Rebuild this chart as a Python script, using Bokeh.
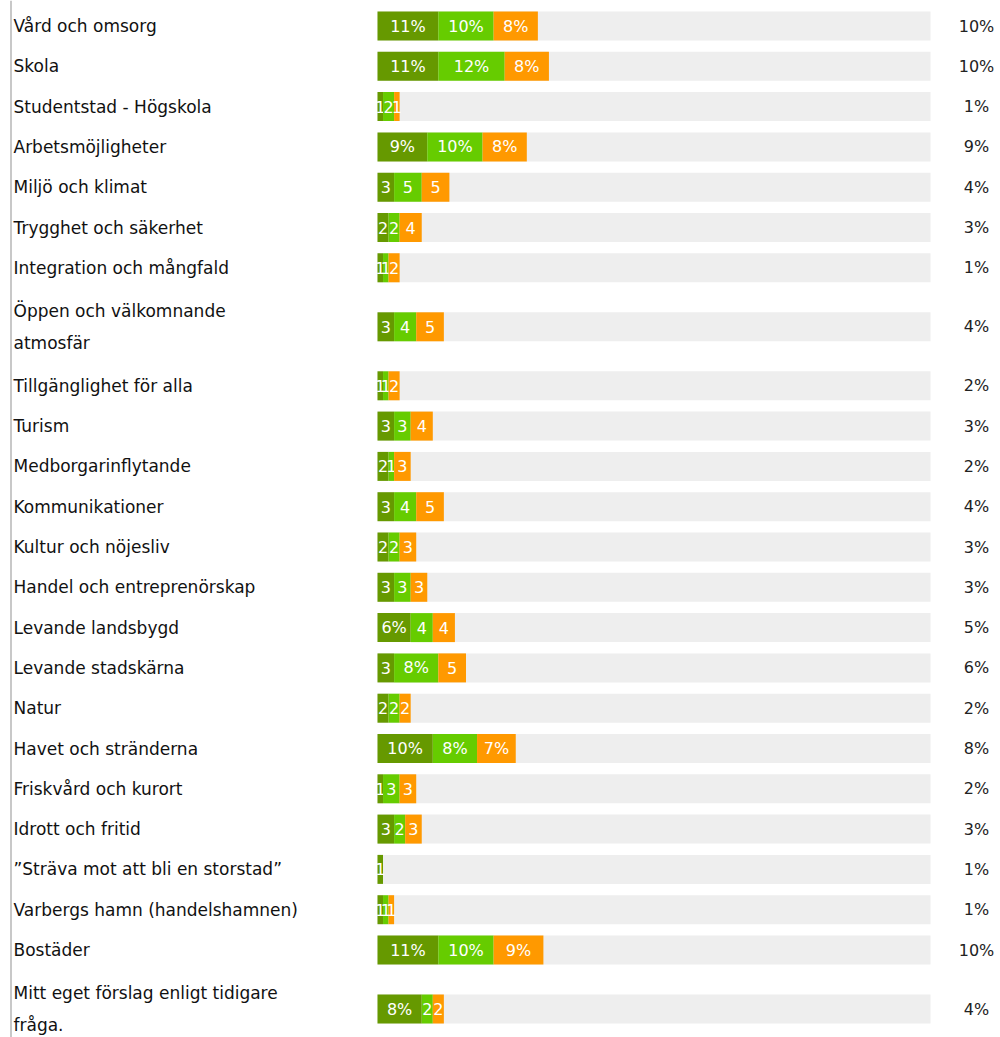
import numpy as np
from bokeh.plotting import figure
from bokeh.models import Range1d, ColumnDataSource, Span
from bokeh.embed import file_html
from bokeh.resources import INLINE
from bokeh.core.properties import value

categories = [
    "Vård och omsorg",
    "Skola",
    "Studentstad - Högskola",
    "Arbetsmöjligheter",
    "Miljö och klimat",
    "Trygghet och säkerhet",
    "Integration och mångfald",
    "Öppen och välkomnande\natmosfär",
    "Tillgänglighet för alla",
    "Turism",
    "Medborgarinflytande",
    "Kommunikationer",
    "Kultur  och nöjesliv",
    "Handel och entreprenörskap",
    "Levande landsbygd",
    "Levande stadskärna",
    "Natur",
    "Havet och stränderna",
    "Friskvård och kurort",
    "Idrott och fritid",
    "\u201dSträva mot att bli en storstad\u201d",
    "Varbergs hamn (handelshamnen)",
    "Bostäder",
    "Mitt eget förslag enligt tidigare\nfråga.",
]
series1 = [11, 11, 1, 9, 3, 2, 1, 3, 1, 3, 2, 3, 2, 3, 6, 3, 2, 10, 1, 3, 1, 1, 11, 8]
series2 = [10, 12, 2, 10, 5, 2, 1, 4, 1, 3, 1, 4, 2, 3, 4, 8, 2, 8, 3, 2, 0, 1, 10, 2]
series3 = [8, 8, 1, 8, 5, 4, 2, 5, 2, 4, 3, 5, 3, 3, 4, 5, 2, 7, 3, 3, 0, 1, 9, 2]
totals = [10, 10, 1, 9, 4, 3, 1, 4, 2, 3, 2, 4, 3, 3, 5, 6, 2, 8, 2, 3, 1, 1, 10, 4]

colors = ["#669900", "#66cc00", "#ff9900"]

# ---- layout (pixels) ----
W, H = 1000, 1037
PX_PER_PCT = 5.53
TRACK_LEFT_PX = 377
ROW_H = 40.3
EXTRA_LINE_H = 37.4
TOP_PX = 5.35
BAR_H = 29

lines = [c.count("\n") + 1 for c in categories]
heights = [ROW_H + (n - 1) * EXTRA_LINE_H for n in lines]
centers = []
y = TOP_PX
for h in heights:
    centers.append(y + h / 2)
    y += h

def px_to_x(px):
    return (px - TRACK_LEFT_PX) / PX_PER_PCT

p = figure(width=W, height=H, output_backend="svg", toolbar_location=None,
           x_range=Range1d(px_to_x(0), px_to_x(W)), y_range=Range1d(H, 0),
           min_border=0, min_border_left=0, min_border_right=0,
           min_border_top=0, min_border_bottom=0)
p.axis.visible = False
p.grid.visible = False
p.outline_line_color = None
p.background_fill_color = "white"
p.border_fill_color = "white"

# left thin border line
p.add_layout(Span(location=px_to_x(10.5), dimension="height",
                  line_color="#c8c8c8", line_width=2))

# background track
p.hbar(y=centers, left=0, right=100, height=BAR_H, fill_color="#eeeeee",
       line_color=None)

s = np.array([series1, series2, series3], dtype=float)
lefts = np.vstack([np.zeros(len(categories)), np.cumsum(s, axis=0)[:-1]])
rights = np.cumsum(s, axis=0)

for i in range(3):
    src = ColumnDataSource(dict(y=centers, left=lefts[i], right=rights[i]))
    p.hbar(y="y", left="left", right="right", height=BAR_H, source=src,
           fill_color=colors[i], line_color=None)
    # segment labels
    xs, ys, txt = [], [], []
    for j in range(len(categories)):
        v = int(s[i, j])
        if v > 0:
            xs.append((lefts[i, j] + rights[i, j]) / 2)
            ys.append(centers[j])
            txt.append(f"{v}%" if v >= 6 else str(v))
    p.text(x=xs, y=ys, text=txt, text_color="white", text_align="center",
           text_baseline="middle", text_font=value("DejaVu Sans"),
           text_font_size="16px")

# category labels
p.text(x=[px_to_x(13)] * len(categories), y=centers, text=categories,
       text_color="#111111", text_align="left", text_baseline="middle",
       text_font=value("DejaVu Sans"), text_font_size="17px",
       text_line_height=1.62)

# totals
p.text(x=[px_to_x(976)] * len(categories), y=centers,
       text=[f"{t}%" for t in totals], text_color="#222222",
       text_align="center", text_baseline="middle",
       text_font=value("DejaVu Sans"), text_font_size="16px")

open("out.html", "w").write(file_html(p, INLINE))
